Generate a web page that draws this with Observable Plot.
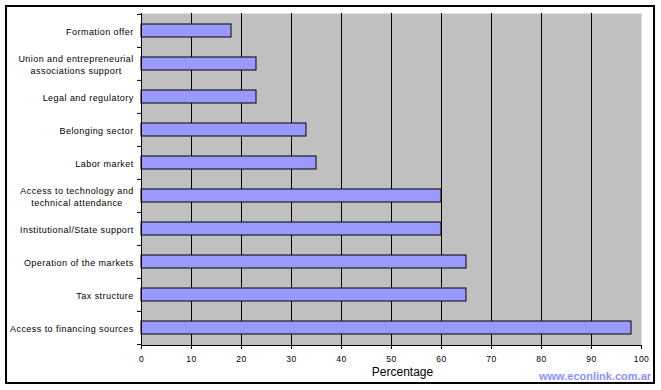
<!DOCTYPE html>
<html>
<head>
<meta charset="utf-8">
<script src="https://cdn.jsdelivr.net/npm/d3@7"></script>
<script src="https://cdn.jsdelivr.net/npm/@observablehq/plot@0.6"></script>
<style>
  html, body { margin: 0; padding: 0; background: #fff; }
  #wrap { position: relative; width: 661px; height: 390px; }
  #border { position: absolute; left: 5px; top: 5px; width: 646px; height: 375px; border: 2px solid #000; box-sizing: content-box; pointer-events: none; }
  #wm { position: absolute; left: 539px; top: 371px; line-height: 1; font: bold 11px "Liberation Sans", Arial, sans-serif; line-height: 1; color: #9090ff; }
  .catlabel text, .xtick text { letter-spacing: 0.45px; }
</style>
</head>
<body>
<div id="wrap"><div id="border"></div><div id="wm">www.econlink.com.ar</div></div>
<script>
const categories = [
  "Formation offer",
  "Union and entrepreneurial\nassociations support",
  "Legal and regulatory",
  "Belonging sector",
  "Labor market",
  "Access to technology and\ntechnical attendance",
  "Institutional/State support",
  "Operation of the markets",
  "Tax structure",
  "Access to financing sources"
];
const values = [18, 23, 23, 33, 35, 60, 60, 65, 65, 98];
const xTicks = [0, 10, 20, 30, 40, 50, 60, 70, 80, 90, 100];
const xLabel = "Percentage";

const data = categories.map((c, i) => ({category: c, value: values[i]}));

const labelFont = '9px "Liberation Sans", Arial, sans-serif';
const letterSp = 0.45;
const ctx = document.createElement("canvas").getContext("2d");
ctx.font = labelFont;
function textWidth(s) { return ctx.measureText(s).width + letterSp * (s.length - 1); }

const marginTop = 13, marginBottom = 45, plotH = 390 - marginTop - marginBottom;
const step = plotH / categories.length;

const labelMarks = categories.map(c => {
  const w = d3.max(c.split("\n"), textWidth);
  return Plot.text([c], {
    y: d => d,
    text: d => d,
    frameAnchor: "left",
    textAnchor: "middle",
    dx: -8 - w / 2,
    lineHeight: 1.3,
    fontSize: 9,
    fill: "#000",
    className: "catlabel"
  });
});

const chart = Plot.plot({
  width: 661,
  height: 390,
  marginLeft: 141,
  marginRight: 20,
  marginTop,
  marginBottom,
  style: {background: "transparent", fontFamily: '"Liberation Sans", Arial, sans-serif', color: "#000"},
  x: {domain: [0, 100], ticks: xTicks, label: null},
  y: {domain: categories, paddingInner: 0.6, paddingOuter: 0.3, axis: null, label: null},
  marks: [
    Plot.frame({fill: "#c0c0c0", stroke: null}),
    Plot.gridX(xTicks.filter(t => t > 0 && t < 100), {stroke: "#000", strokeOpacity: 1, strokeWidth: 1}),
    Plot.barX(data, {x: "value", y: "category", fill: "#9999ff", stroke: "#000", strokeWidth: 1}),
    Plot.ruleX([0], {stroke: "#000", strokeWidth: 1}),
    Plot.frame({anchor: "bottom", stroke: "#000", strokeWidth: 1}),
    Plot.axisX(xTicks, {tickSize: 4, tickPadding: 6, fontSize: 8.5, label: null, stroke: "#000", className: "xtick"}),
    Plot.axisY(categories, {tickSize: 4, tickFormat: () => "", label: null, dy: -step / 2, stroke: "#000"}),
    Plot.axisY(categories.slice(-1), {tickSize: 4, tickFormat: () => "", label: null, dy: step / 2, stroke: "#000"}),
    ...labelMarks,
    Plot.text([xLabel], {frameAnchor: "bottom", dy: 30, dx: 11, fontSize: 12, fill: "#000"})
  ]
});

document.getElementById("wrap").prepend(chart);
chart.style.position = "absolute";
chart.style.left = "0";
chart.style.top = "0";
</script>
</body>
</html>
